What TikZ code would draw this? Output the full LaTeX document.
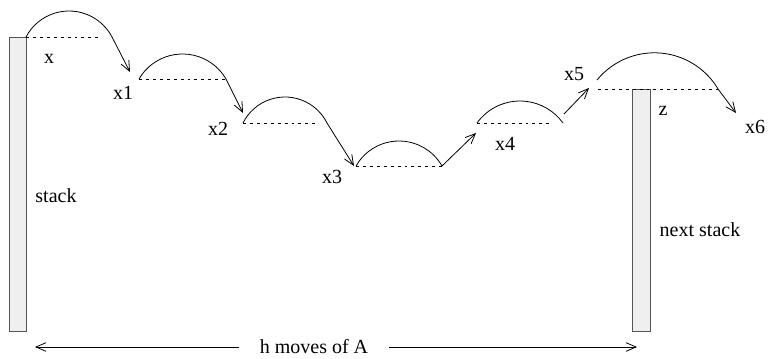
\documentclass[tikz,border=0pt]{standalone}
\usepackage{fontspec}
\setmainfont{Liberation Serif}
\usetikzlibrary{arrows.meta}
\definecolor{stackfill}{HTML}{EFEFEF}
\definecolor{stackedge}{HTML}{555555}
\begin{document}
\begin{tikzpicture}[x=0.75pt,y=-0.75pt,
  lbl/.style={font=\fontsize{15}{17}\selectfont, anchor=base, inner sep=0pt},
  stackbox/.style={draw=stackedge, fill=stackfill, line width=0.7pt},
  jump/.style={line width=0.6pt},
  hop/.style={line width=0.6pt, -{Straight Barb[length=7.5pt,width=6.5pt]}},
  level/.style={line width=0.6pt, dash pattern=on 2.2pt off 3pt}]
\useasboundingbox (0,0) rectangle (768,358);
% stacks
\draw[stackbox] (9,37) rectangle (26,331);
\draw[stackbox] (632,89) rectangle (650,331);
% coordinates
\coordinate (s1) at (26,37);   \coordinate (e1) at (112,37);  \coordinate (d1) at (100,37);
\coordinate (s2) at (139,79);  \coordinate (e2) at (226,79);  \coordinate (d2) at (225,79);
\coordinate (s3) at (243,123); \coordinate (e3) at (327,123); \coordinate (d3) at (316,123);
\coordinate (s4) at (356,166); \coordinate (e4) at (442,166); \coordinate (d4) at (442,166);
\coordinate (s5) at (477,123); \coordinate (e5) at (563,123); \coordinate (d5) at (550,123);
\coordinate (s6) at (597,80);
\coordinate (l6) at (598,89);  \coordinate (d6) at (718,89);
\coordinate (t1) at (130,72);
\coordinate (t2) at (243,113);
\coordinate (t3) at (354,166);
\coordinate (t4) at (476,133);
\coordinate (f5) at (564,114);
\coordinate (t5) at (589,88);
\coordinate (t6) at (736,113);
% dotted levels
\draw[level] (s1) -- (d1);
\draw[level] (s2) -- (d2);
\draw[level] (s3) -- (d3);
\draw[level] (s4) -- (d4);
\draw[level] (s5) -- (d5);
\draw[level] (l6) -- (d6);
% arcs
\draw[jump] (s1) arc[start angle=207.68, end angle=332.32, radius=48.56];
\draw[jump] (s2) arc[start angle=210.22, end angle=329.78, radius=50.34];
\draw[jump] (s3) arc[start angle=206.48, end angle=333.52, radius=46.92];
\draw[jump] (s4) arc[start angle=209.65, end angle=330.35, radius=49.48];
\draw[jump] (s5) arc[start angle=215.81, end angle=324.19, radius=53.02];
\draw[jump] (s6) arc[start angle=219.26, end angle=329.1, radius=74.1];
% hops
\draw[hop] (e1) -- (t1);
\draw[hop] (e2) -- (t2);
\draw[hop] (e3) -- (t3);
\draw[hop] (e4) -- (t4);
\draw[hop] (f5) -- (t5);
\draw[hop] (d6) -- (t6);
% labels
\node[lbl] (lx)  at (49,63)  {x};
\node[lbl] (lx1) at (123,99) {x1};
\node[lbl] (lx2) at (218,135) {x2};
\node[lbl] (lx3) at (332,183) {x3};
\node[lbl] (lx4) at (505,150) {x4};
\node[lbl] (lx5) at (574,80) {x5};
\node[lbl] (lz)  at (663,115) {z};
\node[lbl] (lx6) at (755,133) {x6};
\node[lbl] (lst) at (56,202) {stack};
\node[lbl] (lnst) at (700,236) {next stack};
\node[lbl] (hm) at (314,353) {h moves of A};
\coordinate (hl) at (239,347); \coordinate (hlt) at (35,347);
\coordinate (hr) at (389,347); \coordinate (hrt) at (637,347);
\draw[hop] (hl) -- (hlt);
\draw[hop] (hr) -- (hrt);
\end{tikzpicture}
\end{document}
